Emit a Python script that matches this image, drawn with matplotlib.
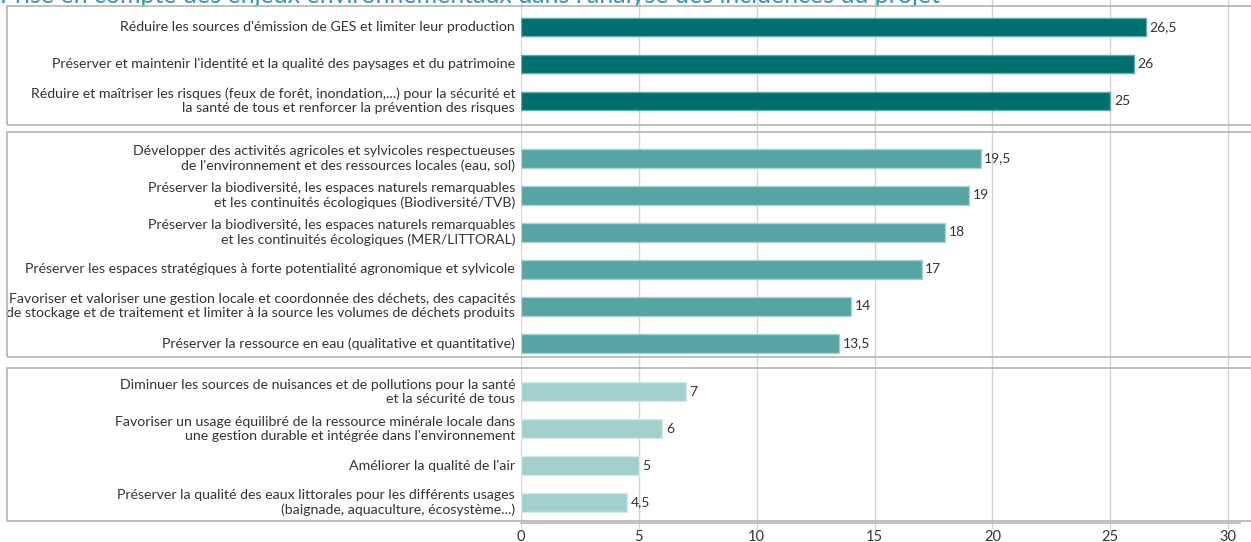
import matplotlib.pyplot as plt
from matplotlib.patches import Rectangle

plt.rcParams['font.family'] = ['Lato', 'DejaVu Sans']

titre = "Prise en compte des enjeux environnementaux dans l'analyse des incidences du projet"

enjeux_forts = [
    "Réduire les sources d'émission de GES et limiter leur production",
    "Préserver et maintenir l'identité et la qualité des paysages et du patrimoine",
    "Réduire et maîtriser les risques (feux de forêt, inondation,...) pour la sécurité et\nla santé de tous et renforcer la prévention des risques",
]
notes_fortes = [26.5, 26, 25]

enjeux_moyens = [
    "Développer des activités agricoles et sylvicoles respectueuses\nde l'environnement et des ressources locales (eau, sol)",
    "Préserver la biodiversité, les espaces naturels remarquables\net les continuités écologiques (Biodiversité/TVB)",
    "Préserver la biodiversité, les espaces naturels remarquables\net les continuités écologiques (MER/LITTORAL)",
    "Préserver les espaces stratégiques à forte potentialité agronomique et sylvicole",
    "Favoriser et valoriser une gestion locale et coordonnée des déchets, des capacités\nde stockage et de traitement et limiter à la source les volumes de déchets produits",
    "Préserver la ressource en eau (qualitative et quantitative)",
]
notes_moyennes = [19.5, 19, 18, 17, 14, 13.5]

enjeux_faibles = [
    "Diminuer les sources de nuisances et de pollutions pour la santé\net la sécurité de tous",
    "Favoriser un usage équilibré de la ressource minérale locale dans\nune gestion durable et intégrée dans l'environnement",
    "Améliorer la qualité de l'air",
    "Préserver la qualité des eaux littorales pour les différents usages\n(baignade, aquaculture, écosystème...)",
]
notes_faibles = [7, 6, 5, 4.5]

groupes = [
    (enjeux_forts, notes_fortes, "#006f6f", "#5fa9a9"),
    (enjeux_moyens, notes_moyennes, "#58a3a3", "#a6d2d2"),
    (enjeux_faibles, notes_faibles, "#a3cfcf", "#d5eaea"),
]
ecarts = [0, 0.55, 0.3]

fig = plt.figure(figsize=(12.51, 5.42), dpi=100)
ax = fig.add_axes([521 / 1251, 19 / 542, 719 / 1251, 1 - 19 / 542])

pos = 0
for (noms, notes, couleur, bord), ecart in zip(groupes, ecarts):
    pos += ecart
    ys = []
    for nom, note in zip(noms, notes):
        ys.append(pos)
        ax.text(-0.25, pos, nom, ha='right', va='center', fontsize=10.2,
                color='#333333', linespacing=1.2)
        pos += 1
    ax.barh(ys, notes, height=0.5, color=couleur, edgecolor=bord, linewidth=1, zorder=3)
    for y, note in zip(ys, notes):
        ax.text(note + 0.15, y, f"{note:g}".replace('.', ','), ha='left', va='center',
                fontsize=10, color='#333333')

ax.set_xlim(0, 30.5)
ax.set_ylim(13.4, -0.73)
ax.set_xticks(range(0, 31, 5))
ax.set_yticks([])
ax.grid(axis='x', color='#d4d4d4', linewidth=1)
ax.set_axisbelow(True)
for s in ['top', 'right', 'left']:
    ax.spines[s].set_visible(False)
ax.spines['bottom'].set_color('#b8b8b8')
ax.spines['bottom'].set_linewidth(1.2)
ax.tick_params(axis='x', length=4, color='#d4d4d4', labelsize=10.5, labelcolor='#333333', pad=1)

# cadres gris autour de chaque groupe d'enjeux
for haut, bas in [(6, 125), (132, 357), (368, 521)]:
    fig.patches.append(Rectangle((7 / 1251, 1 - bas / 542), 1.0, (bas - haut) / 542,
                                 transform=fig.transFigure, fill=False,
                                 edgecolor='#b4b4b4', linewidth=1.2, zorder=5))

fig.text(0.0, 1 - 3 / 542, titre, ha='left', va='baseline', fontsize=18, color='#3896b0')

fig.savefig("out.png", dpi=100)
